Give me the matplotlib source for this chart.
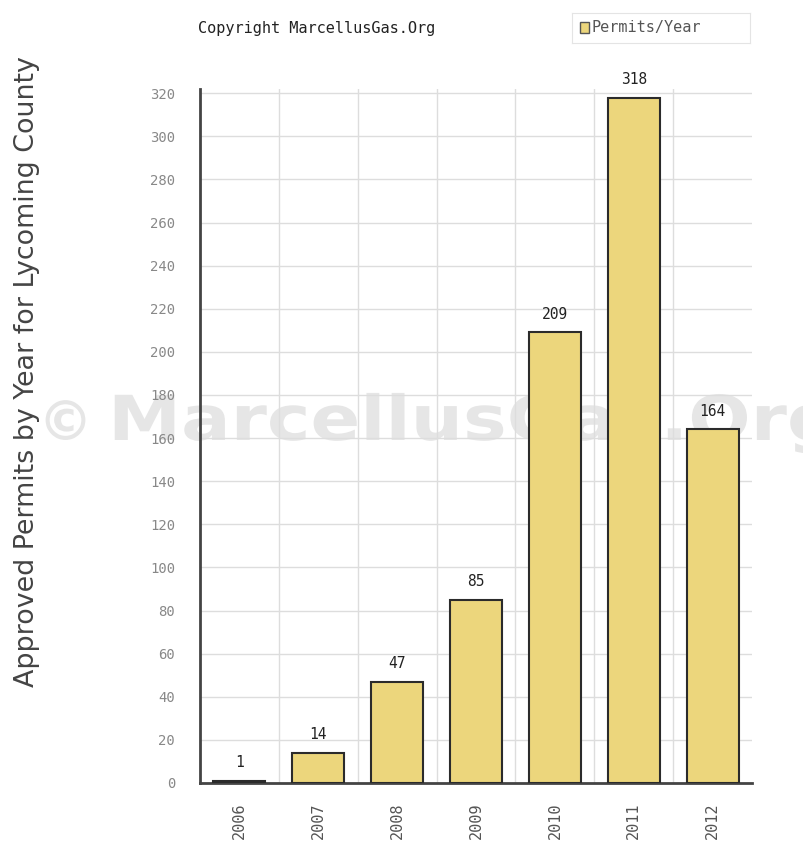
import numpy as np
import matplotlib.pyplot as plt
import matplotlib.transforms as mtransforms
from matplotlib.textpath import TextPath
from matplotlib.patches import PathPatch
from matplotlib.font_manager import FontProperties

years = ['2006', '2007', '2008', '2009', '2010', '2011', '2012']
permits = [1, 14, 47, 85, 209, 318, 164]

W, H = 804, 859
fig = plt.figure(figsize=(W / 100, H / 100), dpi=100)
ax = fig.add_axes([0.2488, 0.0885, 0.6866, 0.808])
ax.patch.set_alpha(0)

x = np.arange(len(years))
ax.bar(x, permits, width=0.66, color='#ecd67c', edgecolor='#2b2b2b', linewidth=1.5, zorder=3)

for xi, v in zip(x, permits):
    ax.text(xi, v + 5, str(v), ha='center', va='bottom', fontsize=10.5,
            family='DejaVu Sans Mono', color='#222222', zorder=4)

ax.set_xlim(-0.5, len(years) - 0.5)
ax.set_ylim(0, 322)
ax.set_yticks(np.arange(0, 321, 20))
ax.set_xticks(x)
ax.set_xticklabels(years, rotation=90, family='DejaVu Sans Mono', fontsize=11, color='#555555')
for lab in ax.get_yticklabels():
    lab.set_family('DejaVu Sans Mono')
ax.tick_params(axis='y', labelsize=10, colors='#888888', length=0, pad=18)
ax.tick_params(axis='x', length=0, pad=14)

# grid: horizontal at ticks, vertical between categories
ax.set_axisbelow(True)
ax.grid(axis='y', color='#dddddd', linewidth=1)
for b in np.arange(0.5, len(years) - 0.5, 1):
    ax.axvline(b, color='#dddddd', linewidth=1, zorder=0)

for s in ['top', 'right']:
    ax.spines[s].set_visible(False)
ax.spines['left'].set_color('#444444')
ax.spines['left'].set_linewidth(2)
ax.spines['bottom'].set_color('#444444')
ax.spines['bottom'].set_linewidth(2)

fig.text(0.033, 0.567, 'Approved Permits by Year for Lycoming County', rotation=90,
         ha='center', va='center', fontsize=19.4, color='#444444', family='DejaVu Sans')

fig.text(0.246, 0.967, 'Copyright MarcellusGas.Org', fontsize=11, family='DejaVu Sans Mono',
         color='#222222', va='center')

# legend box
leg_ax = fig.add_axes([0.712, 0.950, 0.221, 0.035])
leg_ax.set_xticks([])
leg_ax.set_yticks([])
for s in leg_ax.spines.values():
    s.set_color('#e4e4e4')
leg_ax.set_xlim(0, 1)
leg_ax.set_ylim(0, 1)
leg_ax.add_patch(plt.Rectangle((0.04, 0.33), 0.055, 0.36, facecolor='#ecd67c', edgecolor='#555555', lw=1))
leg_ax.text(0.11, 0.5, 'Permits/Year', fontsize=11, family='DejaVu Sans Mono', color='#555555', va='center')

# watermark, wide bold text behind the plot
wm_prop = FontProperties(family='DejaVu Sans', weight='bold')
wm_color = '#e6e6e6'
pieces = [('\u00a9', 55, 1.0, 38), ('MarcellusGas.Org', 62, 1.185, 108)]
for txt, size, sx, x0 in pieces:
    tp = TextPath((0, 0), txt, size=size, prop=wm_prop)
    tr = mtransforms.Affine2D().scale(sx / W, 1 / H).translate(x0 / W, (H - 440) / H) + fig.transFigure
    fig.add_artist(PathPatch(tp, facecolor=wm_color, edgecolor='none', transform=tr, zorder=-1))

fig.savefig('out.png', dpi=100)
